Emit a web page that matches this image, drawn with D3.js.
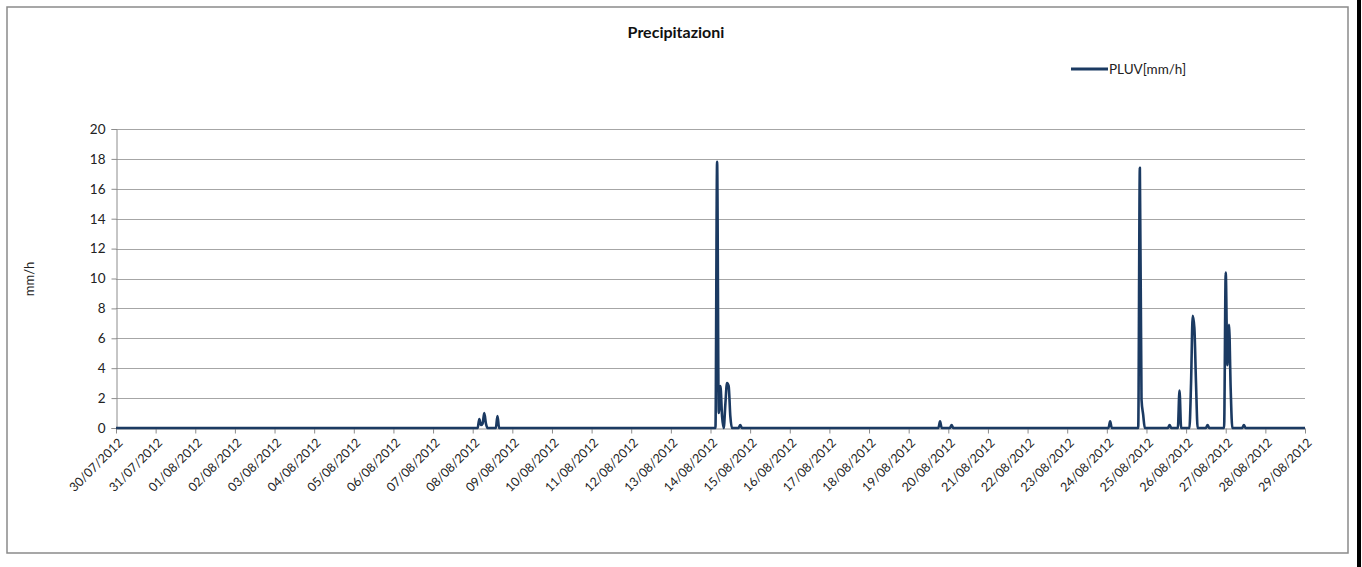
<!DOCTYPE html>
<html><head><meta charset="utf-8">
<script src="https://cdn.jsdelivr.net/npm/d3@7"></script>
<style>
html,body{margin:0;padding:0;background:#fff;}
svg{display:block;font-family:Lato,"Liberation Sans",sans-serif;}
</style></head>
<body>
<svg id="chart" width="1362" height="567"></svg>
<script>
// ---- data (hourly rainfall readings, all other hours are 0) ----
const times = [
"30/07/2012 00:00",
"08/08/2012 03:00","08/08/2012 04:00","08/08/2012 05:00","08/08/2012 06:00","08/08/2012 07:00","08/08/2012 08:00","08/08/2012 09:00",
"08/08/2012 14:00","08/08/2012 15:00","08/08/2012 16:00",
"14/08/2012 03:00","14/08/2012 04:00","14/08/2012 05:00","14/08/2012 06:00","14/08/2012 07:00","14/08/2012 08:00",
"14/08/2012 09:00","14/08/2012 10:00","14/08/2012 11:00","14/08/2012 12:00","14/08/2012 13:00",
"14/08/2012 17:00","14/08/2012 18:00","14/08/2012 19:00",
"19/08/2012 18:00","19/08/2012 19:00","19/08/2012 20:00",
"20/08/2012 01:00","20/08/2012 02:00","20/08/2012 03:00",
"24/08/2012 01:00","24/08/2012 02:00","24/08/2012 03:00",
"24/08/2012 19:00","24/08/2012 20:00","24/08/2012 21:00","24/08/2012 22:00","24/08/2012 23:00",
"25/08/2012 13:00","25/08/2012 14:00","25/08/2012 15:00",
"25/08/2012 19:00","25/08/2012 20:00","25/08/2012 21:00",
"26/08/2012 02:00","26/08/2012 03:00","26/08/2012 04:00","26/08/2012 05:00","26/08/2012 06:00","26/08/2012 07:00",
"26/08/2012 12:00","26/08/2012 13:00","26/08/2012 14:00",
"26/08/2012 23:00","27/08/2012 00:00","27/08/2012 01:00","27/08/2012 02:00","27/08/2012 03:00","27/08/2012 04:00",
"27/08/2012 10:00","27/08/2012 11:00","27/08/2012 12:00",
"29/08/2012 00:00"
];
const values = [
0,
0,0.6,0.2,0.3,1.0,0.3,0,
0,0.8,0,
0,17.8,1.0,2.8,0.8,0,
1.6,3.0,2.8,0.8,0,
0,0.2,0,
0,0.45,0,
0,0.2,0,
0,0.45,0,
0,17.4,1.9,0.9,0,
0,0.2,0,
0,2.5,0,
0,3.0,7.5,6.7,3.0,0,
0,0.2,0,
0,10.4,4.2,6.9,2.6,0,
0,0.2,0,
0
];
const dayTicks = ["30/07/2012","31/07/2012","01/08/2012","02/08/2012","03/08/2012","04/08/2012","05/08/2012","06/08/2012",
"07/08/2012","08/08/2012","09/08/2012","10/08/2012","11/08/2012","12/08/2012","13/08/2012","14/08/2012","15/08/2012",
"16/08/2012","17/08/2012","18/08/2012","19/08/2012","20/08/2012","21/08/2012","22/08/2012","23/08/2012","24/08/2012",
"25/08/2012","26/08/2012","27/08/2012","28/08/2012","29/08/2012"];
const yTicks = [0,2,4,6,8,10,12,14,16,18,20];
const titleText = "Precipitazioni";
const seriesName = "PLUV[mm/h]";
const yTitle = "mm/h";

// ---- drawing ----
const svg = d3.select("#chart");
const parseT = d3.utcParse("%d/%m/%Y %H:%M");
const parseD = d3.utcParse("%d/%m/%Y");
const fmtD = d3.utcFormat("%d/%m/%Y");
const data = times.map((t,i)=>({t:parseT(t), v:values[i]}));
const tickDates = dayTicks.map(parseD);

const L=116, R=1305, T=129, B=428;
const lineColor = "#1b3a62";

// outer frame
svg.append("rect").attr("x",7).attr("y",7).attr("width",1341).attr("height",546)
  .attr("fill","#fff").attr("stroke","#8a8a8a").attr("stroke-width",1.5);
svg.append("rect").attr("x",1357).attr("y",0).attr("width",4).attr("height",567).attr("fill","#000");

const x = d3.scaleUtc().domain([tickDates[0], tickDates[tickDates.length-1]]).range([L,R]);
const y = d3.scaleLinear().domain([0,20]).range([B,T]);

// gridlines
svg.append("g").selectAll("line").data(yTicks.filter(d=>d>0)).join("line")
  .attr("x1",L).attr("x2",R).attr("y1",d=>Math.round(y(d))+0.5).attr("y2",d=>Math.round(y(d))+0.5)
  .attr("stroke","#a6a6a6").attr("stroke-width",1);

// y axis
const yAxis = svg.append("g").attr("transform",`translate(${L+0.5},0)`)
  .call(d3.axisLeft(y).tickValues(yTicks).tickSize(5).tickPadding(6));
yAxis.select(".domain").attr("stroke","#8c8c8c");
yAxis.selectAll(".tick line").attr("stroke","#8c8c8c");
yAxis.selectAll("text").attr("font-size",13.5).attr("fill","#222").attr("font-family","Lato, sans-serif");

// x axis
const xAxis = svg.append("g").attr("transform",`translate(0,${B+0.5})`)
  .call(d3.axisBottom(x).tickValues(tickDates).tickFormat(fmtD).tickSize(5).tickSizeOuter(0));
xAxis.select(".domain").attr("stroke","#8c8c8c");
xAxis.selectAll(".tick line").attr("stroke","#8c8c8c");
xAxis.selectAll("text").attr("font-size",12.5).attr("fill","#222").attr("font-family","Lato, sans-serif")
  .attr("text-anchor","end").attr("dy","0.35em")
  .attr("transform","translate(4,12) rotate(-45)").attr("x",0).attr("y",0);

// line
const line = d3.line().x(d=>x(d.t)).y(d=>y(d.v)).curve(d3.curveMonotoneX);
svg.append("path").datum(data).attr("d",line).attr("fill","none")
  .attr("stroke",lineColor).attr("stroke-width",2.6).attr("stroke-linejoin","round");

// title
svg.append("text").attr("x",676).attr("y",38).attr("text-anchor","middle")
  .attr("font-size",16).attr("font-weight","bold").attr("fill","#111").text(titleText);

// legend
svg.append("line").attr("x1",1071).attr("x2",1108).attr("y1",69).attr("y2",69)
  .attr("stroke",lineColor).attr("stroke-width",3);
svg.append("text").attr("x",1109).attr("y",73.5).attr("font-size",13.5).attr("fill","#222").text(seriesName);

// y title
svg.append("text").attr("transform","translate(34,279) rotate(-90)").attr("text-anchor","middle")
  .attr("font-size",13).attr("fill","#222").text(yTitle);
</script>
</body></html>
